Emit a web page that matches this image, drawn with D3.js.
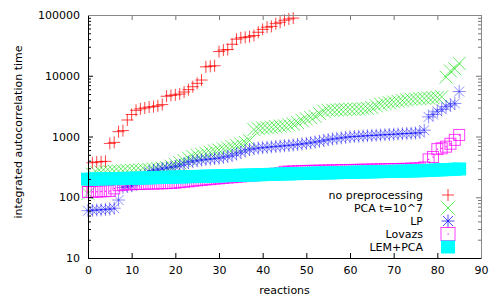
<!DOCTYPE html>
<html><head><meta charset="utf-8">
<script src="https://cdn.jsdelivr.net/npm/d3@7"></script>
<style>body{margin:0;background:#fff}svg{display:block}text{font-family:"DejaVu Sans",sans-serif;font-size:11px}</style>
</head><body>
<script>
const seriesNames = ["no preprocessing", "PCA t=10^7", "LP", "Lovazs", "LEM+PCA"];
const xTicks = [0,10,20,30,40,50,60,70,80,90];
const yTicks = [10,100,1000,10000,100000];
const noPre = [150,370,380,385,390,770,800,1200,1250,1870,2300,2700,2850,2950,3050,3100,3200,3350,4600,4750,4850,5000,5400,5900,6600,7500,8500,14000,14300,14600,25000,26500,27000,33000,40000,42000,43000,44000,46000,52000,58000,63000,65000,72000,76000,82000,86000,89000];
const pca = [115,240,255,260,262,265,268,270,272,274,
 276,278,280,283,286,290,295,300,310,325,
 345,370,400,440,470,490,510,530,550,575,
 600,625,650,680,710,750,800,860,1300,1350,
 1380,1400,1420,1450,1480,1500,1550,1600,1700,1850,
 1950,2050,2150,2400,2600,2700,2720,2740,2760,2780,
 2800,2820,2840,2870,2900,3000,3200,3400,3500,3600,
 3700,3800,3900,4000,4100,4150,4200,4250,4300,4350,
 4400,4500,9500,12000,13000,16000];
const lp = [60,61,62,62,63,64,66,90,145,150,
 155,175,205,235,260,275,285,295,305,312,
 320,335,350,375,390,400,410,420,425,432,
 440,455,470,490,520,550,580,610,630,645,
 655,665,675,685,695,705,715,725,740,755,
 770,790,810,830,860,890,910,930,950,970,
 990,1000,1010,1020,1030,1040,1050,1060,1070,1080,
 1090,1100,1110,1120,1130,1140,1160,1270,2100,2300,
 2600,2800,3100,3300,3500,5500];
const lovazs = [122,123,124,125,126,127,140,158,162,163,
 164,165,166,167,168,168,169,170,171,172,
 174,177,180,183,187,190,193,196,199,202,
 205,208,211,214,217,220,223,226,229,232,
 235,238,241,244,248,262,264,266,268,270,
 271,272,273,274,275,276,277,278,279,280,
 281,282,283,284,285,286,287,288,289,290,
 291,292,293,294,296,298,300,310,420,460,
 620,640,680,760,880,1060];
const lemPca = [198,199,200,200,201,202,202,203,204,205,
 205,206,207,208,209,210,211,212,213,214,
 215,216,217,218,219,220,221,222,223,224,
 225,226,227,228,229,230,231,232,233,234,
 236,237,238,239,241,242,243,244,245,246,
 247,248,249,250,251,252,253,254,255,256,
 257,258,259,260,261,262,263,264,265,266,
 267,268,269,270,271,272,273,275,277,279,
 281,283,285,287,289,292];

const W=498,H=299, L=88,R=481,T=15,B=258;
const svg=d3.select("body").append("svg").attr("width",W).attr("height",H);
const x=d3.scaleLinear().domain([0,90]).range([L,R]);
const y=d3.scaleLog().domain([10,100000]).range([B,T]);

// markers
function plus(g,cx,cy,s){g.append("path").attr("d",`M${cx-s},${cy}H${cx+s}M${cx},${cy-s}V${cy+s}`);}
function cross(g,cx,cy,s){g.append("path").attr("d",`M${cx-s},${cy-s}L${cx+s},${cy+s}M${cx-s},${cy+s}L${cx+s},${cy-s}`);}
const drawers=[
 (g,cx,cy)=>plus(g,cx,cy,6),
 (g,cx,cy)=>cross(g,cx,cy,6.5),
 (g,cx,cy)=>{plus(g,cx,cy,6.5);cross(g,cx,cy,5);},
 (g,cx,cy)=>{g.append("rect").attr("x",cx-5.5).attr("y",cy-5.5).attr("width",11).attr("height",11).attr("fill","none");
   g.append("rect").attr("x",cx-0.5).attr("y",cy-0.5).attr("width",1.2).attr("height",1.2).attr("fill","#ff00ff").attr("stroke","none");},
 (g,cx,cy)=>{g.append("rect").attr("x",cx-7).attr("y",cy-6.5).attr("width",14).attr("height",13).attr("fill","#00ffff").attr("stroke","none");}
];
const colors=["#ff0000","#00e000","#0000ff","#ff00ff","#00ffff"];
const opac=[0.75,0.6,0.45,0.75,1];
const data=[noPre,pca,lp,lovazs,lemPca];

const plot=svg.append("g");
data.forEach((arr,k)=>{
  const g=plot.append("g").attr("stroke",colors[k]).attr("stroke-width",1).attr("fill","none").attr("stroke-opacity",opac[k]);
  arr.forEach((v,i)=>drawers[k](g,x(i),y(v)));
});

// axes
const minor=[];
for(let d=10; d<100000; d*=10){for(let m=2;m<=9;m++) minor.push(d*m);}
const ax=svg.append("g").attr("font-family","DejaVu Sans").attr("font-size",11);
const gl=ax.append("g").attr("transform",`translate(${L},0)`).call(d3.axisLeft(y).tickValues(yTicks).tickSize(-5).tickPadding(8).tickFormat(d3.format("d")));
const glm=ax.append("g").attr("transform",`translate(${L},0)`).call(d3.axisLeft(y).tickValues(minor).tickSize(-3).tickFormat(""));
const gr=ax.append("g").attr("transform",`translate(${R},0)`).call(d3.axisRight(y).tickValues(yTicks).tickSize(-5).tickFormat(""));
const grm=ax.append("g").attr("transform",`translate(${R},0)`).call(d3.axisRight(y).tickValues(minor).tickSize(-3).tickFormat(""));
const gb=ax.append("g").attr("transform",`translate(0,${B})`).call(d3.axisBottom(x).tickValues(xTicks).tickSize(-5).tickPadding(8).tickFormat(d3.format("d")));
const gt=ax.append("g").attr("transform",`translate(0,${T})`).call(d3.axisTop(x).tickValues(xTicks).tickSize(-5).tickFormat(""));
[gl,glm,gr,grm,gb,gt].forEach(g=>{g.select(".domain").remove();g.selectAll("text").attr("fill","#000").style("font-family","DejaVu Sans").style("font-size","11px");});
[gr,grm,gt].forEach(g=>g.selectAll("line").attr("stroke","#777"));
// border
svg.append("path").attr("d",`M${L+0.5},${T}V${B+0.5}H${R+0.5}`).attr("stroke","#000").attr("fill","none");
svg.append("path").attr("d",`M${L},${T+0.5}H${R+0.5}V${B}`).attr("stroke","#888").attr("fill","none");

// titles
svg.append("text").attr("x",(L+R)/2).attr("y",294).attr("text-anchor","middle").text("reactions");
svg.append("text").attr("transform",`translate(22,132) rotate(-90)`).attr("text-anchor","middle").text("integrated autocorrelation time");

// legend
const lg=svg.append("g");
seriesNames.forEach((n,k)=>{
  const cy=195+k*13;
  lg.append("text").attr("x",423).attr("y",cy+4).attr("text-anchor","end").text(n);
  const g=lg.append("g").attr("stroke",colors[k]).attr("fill","none").attr("stroke-opacity",Math.max(opac[k],0.7));
  if(k===3){g.append("rect").attr("x",441).attr("y",cy-6.5).attr("width",14).attr("height",13);g.append("rect").attr("x",447.5).attr("y",cy-0.5).attr("width",1.2).attr("height",1.2).attr("fill","#ff00ff").attr("stroke","none");}
  else drawers[k](g,448,cy);
});
</script>
</body></html>
